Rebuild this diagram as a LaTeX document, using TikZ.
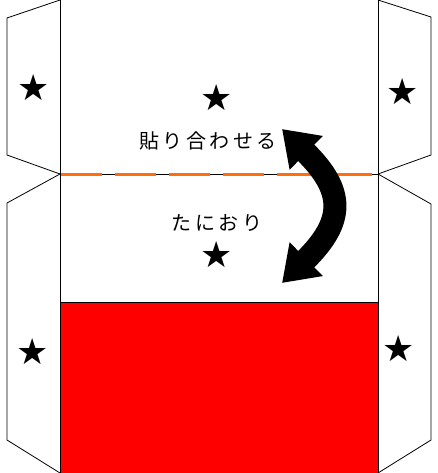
\documentclass[tikz,border=0pt]{standalone}
\usepackage{fontspec}
\newfontfamily\jafont[LetterSpace=18]{Noto Sans CJK JP}
\newfontfamily\symfont{DejaVu Sans}
\usetikzlibrary{arrows.meta}
\definecolor{foldorange}{RGB}{255,110,10}

\begin{document}
\begin{tikzpicture}[x=1pt, y=-1pt,
    edge/.style={draw=black, line width=0.8pt},
    starmark/.style={font=\symfont\fontsize{36}{36}\selectfont, inner sep=0pt},
    label/.style={font=\jafont\fontsize{20}{20}\selectfont, inner sep=0pt}]
      \useasboundingbox (0, 0) rectangle (437, 473);
      % red part
      \fill[red] (60, 302) rectangle (378, 473);
      \draw[edge] (60, 302) -- (378, 302);
      % body edges
      \draw[edge] (60, 0) -- (60, 473);
      \draw[edge] (378, 0) -- (378, 473);
      % side flaps
      \draw[edge] (60, 0) -- (7, 18) -- (7, 155) -- (60, 174);
      \draw[edge] (60, 174) -- (7, 203) -- (7, 440) -- (60, 473);
      \draw[edge] (378, 0) -- (431, 17) -- (431, 155) -- (378, 174);
      \draw[edge] (378, 174) -- (431, 204) -- (431, 440) -- (378, 473);
      % valley fold
      \coordinate (foldL) at (60, 174);
      \coordinate (foldR) at (378, 174);
      \draw[edge] (foldL) -- (foldR);
      \draw[foldorange, line width=3pt, dash pattern=on 41pt off 13pt, dash phase=-1pt] (foldL) -- (foldR);
      % stars
      \node[starmark] (starLT) at (34, 88) {★};
      \node[starmark] (starRT) at (403, 92) {★};
      \node[starmark] (starCT) at (217, 98) {★};
      \node[starmark] (starCB) at (217, 255) {★};
      \node[starmark] (starLB) at (33, 352) {★};
      \node[starmark] (starRB) at (399, 349) {★};
      % texts
      \node[label] (paste) at (208, 141) {貼り合わせる};
      \node[label] (fold) at (217, 223) {たにおり};
      % turn arrow
      \coordinate (tipT) at (282, 129);
      \coordinate (tipB) at (282, 283);
      \draw[line width=23pt, {Triangle[length=34pt, width=45pt]}-{Triangle[length=34pt, width=45pt]}]
        (tipT) .. controls (345, 191) and (345, 221) .. (tipB);
    \end{tikzpicture}
\end{document}
